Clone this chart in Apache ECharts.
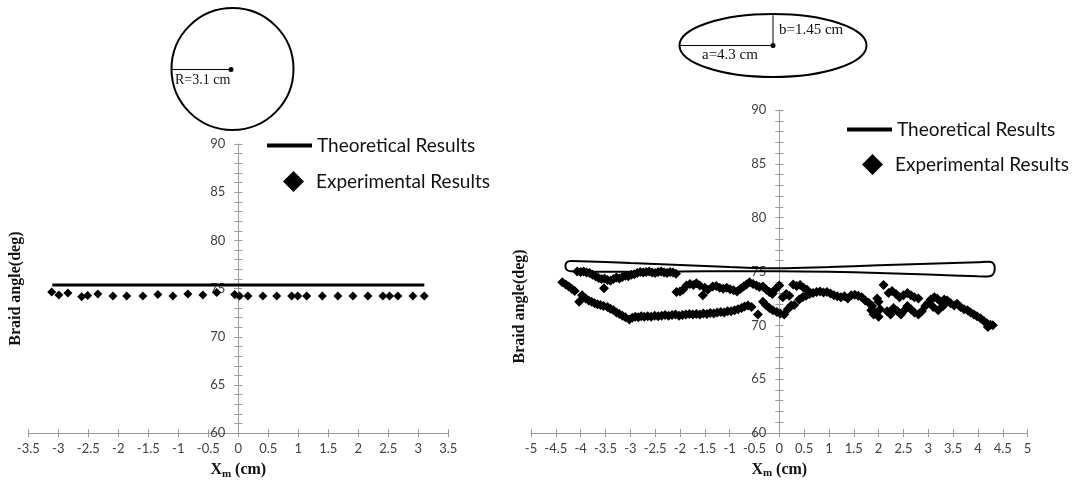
<!DOCTYPE html>
<html>
<head>
<meta charset="utf-8">
<script src="https://cdn.jsdelivr.net/npm/echarts@6/dist/echarts.min.js"></script>
<style>
html,body{margin:0;padding:0;background:#fff;}
#chart{width:1082px;height:484px;}
</style>
</head>
<body>
<div id="chart"></div>
<script>
// ---------- DATA ----------
const seriesNames = ['Theoretical Results', 'Experimental Results'];
const yTicks = {min: 60, max: 90, interval: 5};
const leftXRange = {min: -3.5, max: 3.5, interval: 0.5};
const rightXRange = {min: -5, max: 5, interval: 0.5};

// Left chart (circle, R = 3.1 cm)
const leftTheory = [[-3.1, 75.38], [3.1, 75.38]];
const leftExp = [
  [-3.11, 74.65], [-2.99, 74.35], [-2.84, 74.55], [-2.61, 74.15], [-2.51, 74.3],
  [-2.34, 74.45], [-2.09, 74.25], [-1.86, 74.25], [-1.59, 74.25], [-1.34, 74.4],
  [-1.09, 74.25], [-0.84, 74.45], [-0.59, 74.35], [-0.36, 74.6], [-0.06, 74.4],
  [0.02, 74.25], [0.16, 74.25], [0.41, 74.25], [0.64, 74.25], [0.89, 74.25],
  [0.99, 74.25], [1.14, 74.25], [1.4, 74.25], [1.66, 74.25], [1.91, 74.25],
  [2.16, 74.25], [2.41, 74.25], [2.52, 74.25], [2.66, 74.25], [2.91, 74.25],
  [3.1, 74.25]
];

// Right chart (ellipse, a = 4.3 cm, b = 1.45 cm) - closed theoretical loop
const rightTheoryUpper = [
  [-4.31, 75.5], [-4.28, 75.85], [-4.2, 75.97], [-4.0, 75.96], [-3, 75.78], [-2, 75.6],
  [-1, 75.42], [0, 75.3], [1, 75.42], [2, 75.57], [3, 75.72], [4.0, 75.86],
  [4.2, 75.9], [4.3, 75.8], [4.34, 75.3]
];
const rightTheoryLower = [
  [4.3, 74.7], [4.2, 74.53], [4.0, 74.55], [3, 74.72], [2, 74.86], [1, 74.97],
  [0, 75.02], [-1, 75.02], [-2, 75.0], [-3, 74.98], [-4.0, 74.98], [-4.2, 75.02],
  [-4.28, 75.15], [-4.31, 75.5]
];

const rightExpBandUpper = [
  [-4.07, 75.0], [-4.0, 74.95], [-3.94, 75.0], [-3.88, 74.9], [-3.82, 74.85], [-3.76, 74.7],
  [-3.7, 74.55], [-3.64, 74.4], [-3.58, 74.3], [-3.52, 74.35], [-3.46, 74.2], [-3.4, 74.15],
  [-3.34, 74.3], [-3.28, 74.45], [-3.22, 74.35], [-3.16, 74.5], [-3.1, 74.6], [-3.04, 74.55],
  [-2.98, 74.7], [-2.92, 74.75], [-2.86, 74.85], [-2.8, 74.95], [-2.74, 74.9], [-2.68, 74.95],
  [-2.62, 75.0], [-2.56, 74.9], [-2.5, 74.85], [-2.44, 74.95], [-2.38, 75.0], [-2.32, 74.9],
  [-2.26, 74.85], [-2.2, 74.95], [-2.14, 74.9], [-2.08, 74.8], [-3.53, 73.45]
];
const rightExpBandLower = [
  [-4.37, 74.0], [-4.3, 73.8], [-4.24, 73.6], [-4.18, 73.4], [-4.12, 73.2], [-4.03, 72.2],
  [-3.97, 72.8], [-3.9, 72.5], [-3.84, 72.3], [-3.78, 72.2], [-3.72, 72.05], [-3.66, 71.95],
  [-3.6, 71.9], [-3.54, 71.8], [-3.46, 71.7], [-3.4, 71.55], [-3.34, 71.4], [-3.28, 71.2],
  [-3.22, 71.05], [-3.16, 70.9], [-3.1, 70.75], [-3.02, 70.55], [-2.96, 70.7], [-2.9, 70.8],
  [-2.84, 70.75], [-2.78, 70.85], [-2.72, 70.8], [-2.65, 70.85], [-2.58, 70.8], [-2.51, 70.9],
  [-2.44, 70.85], [-2.37, 70.9], [-2.3, 70.95], [-2.23, 70.9], [-2.16, 70.95], [-2.09, 71.0],
  [-2.02, 70.9], [-1.95, 70.95], [-1.88, 71.0], [-1.81, 71.05], [-1.74, 71.0], [-1.67, 71.05],
  [-1.6, 71.0], [-1.53, 71.1], [-1.46, 71.05], [-1.39, 71.15], [-1.32, 71.1], [-1.25, 71.2],
  [-1.18, 71.25], [-1.11, 71.2], [-1.04, 71.3], [-0.97, 71.3], [-0.9, 71.4], [-0.83, 71.5],
  [-0.76, 71.6], [-0.7, 71.75], [-0.63, 71.85], [-0.56, 71.7], [-0.43, 71.0], [-0.33, 72.2],
  [-0.27, 71.9], [-0.2, 71.6], [-0.13, 71.4], [-0.05, 71.25], [0.02, 71.1], [0.1, 71.0],
  [0.17, 71.5], [0.24, 71.85], [0.3, 71.9]
];
const rightExpBandMiddle = [
  [-2.07, 73.1], [-2.0, 73.15], [-1.94, 73.3], [-1.87, 73.7], [-1.8, 73.85], [-1.73, 73.75],
  [-1.67, 73.9], [-1.6, 73.7], [-1.54, 72.8], [-1.5, 73.5], [-1.44, 73.3], [-1.34, 73.6],
  [-1.27, 73.65], [-1.2, 73.5], [-1.13, 73.4], [-1.06, 73.5], [-0.99, 73.35], [-0.92, 73.25],
  [-0.85, 73.15], [-0.78, 73.4], [-0.72, 73.6], [-0.66, 73.8], [-0.6, 74.0], [-0.53, 73.85],
  [-0.46, 73.7], [-0.4, 73.55], [-0.33, 73.6], [-0.26, 73.3], [-0.2, 73.1], [-0.14, 72.9],
  [-0.07, 73.4], [0.0, 73.7], [0.07, 72.6], [0.14, 72.9], [0.2, 72.75], [0.28, 73.8],
  [0.35, 73.65], [0.42, 73.75], [0.49, 73.5], [0.56, 73.3]
];
const rightExpBandRight = [
  [0.4, 72.4], [0.47, 72.6], [0.54, 72.75], [0.61, 72.9], [0.68, 73.0], [0.75, 73.1],
  [0.82, 73.15], [0.89, 73.05], [0.96, 73.1], [1.03, 72.95], [1.1, 72.8], [1.17, 72.7],
  [1.24, 72.6], [1.31, 72.7], [1.38, 72.5], [1.45, 72.8], [1.52, 72.85], [1.59, 72.75],
  [1.66, 72.6], [1.73, 72.3], [1.8, 72.1], [1.87, 71.8], [1.9, 71.0], [1.97, 72.5],
  [2.0, 72.2], [2.1, 73.75], [2.03, 71.5], [1.95, 71.2], [2.0, 70.8], [1.85, 71.4],
  [2.2, 73.0], [2.27, 73.2], [2.35, 72.9], [2.42, 72.6], [2.5, 72.8], [2.58, 73.0],
  [2.65, 72.8], [2.72, 72.6], [2.8, 72.5], [2.17, 71.3], [2.24, 71.0], [2.3, 71.6],
  [2.38, 71.3], [2.45, 71.0], [2.52, 71.4], [2.58, 71.8], [2.65, 71.5], [2.72, 71.2],
  [2.8, 71.0], [2.87, 71.3], [2.94, 71.8], [3.0, 72.1], [3.05, 72.4], [3.12, 72.6],
  [3.18, 72.5], [3.25, 72.2], [3.32, 72.4], [3.38, 72.3], [3.45, 72.05], [3.52, 71.85],
  [3.58, 72.0], [3.65, 71.7], [3.72, 71.5], [3.79, 71.4], [3.85, 71.2], [3.92, 71.0],
  [3.98, 70.85], [4.05, 70.65], [4.12, 70.4], [4.18, 70.2], [4.25, 70.05], [4.3, 70.0],
  [4.2, 69.85], [3.1, 71.7], [3.2, 71.4], [3.3, 71.8]
];

// ---------- STYLE ----------
const axisGray = '#9a9a9a';
const labelColor = '#404040';
const tickFont = 'Lato';
const legendFont = 'Lato';
const nameFont = '"Liberation Serif", "Times New Roman", serif';

const grids = [
  {left: 28.3, top: 144, width: 420, height: 289.3},
  {left: 531, top: 110, width: 496.6, height: 323}
];

function xAxes(gridIndex, range) {
  const base = {
    type: 'value', gridIndex, min: range.min, max: range.max, interval: range.interval,
    position: 'bottom',
    splitLine: {show: false},
    axisLine: {onZero: false, lineStyle: {color: axisGray, width: 1}}
  };
  return [
    Object.assign({}, base, {
      axisTick: {show: true, length: 4, lineStyle: {color: axisGray}},
      axisLabel: {color: labelColor, fontFamily: tickFont, fontSize: 13, margin: 9},
      name: '{x|X}{s|m}{x| (cm)}', nameLocation: 'middle', nameGap: 27,
      nameTextStyle: {rich: {
        x: {fontFamily: nameFont, fontWeight: 'bold', fontSize: 16, color: '#111'},
        s: {fontFamily: nameFont, fontWeight: 'bold', fontSize: 11, color: '#111', verticalAlign: 'bottom', padding: [8, 0, 0, 0]}
      }}
    }),
    Object.assign({}, base, {
      axisLine: {show: false, onZero: false},
      axisTick: {show: true, inside: true, length: 4, lineStyle: {color: axisGray}},
      axisLabel: {show: false}
    })
  ];
}
// y axis sits at x = 0 of the matching x range: shift it from the grid's left edge
function yAxes(gridIndex, range, nameGap, namePadding) {
  const g = grids[gridIndex];
  const shift = -g.width * (0 - range.min) / (range.max - range.min);
  const base = {
    type: 'value', gridIndex, min: yTicks.min, max: yTicks.max, interval: yTicks.interval,
    position: 'left', offset: shift,
    splitLine: {show: false},
    minorTick: {show: true, splitNumber: 5, length: 4, lineStyle: {color: axisGray}}
  };
  return [
    Object.assign({}, base, {
      axisLine: {onZero: false, lineStyle: {color: axisGray, width: 1}},
      axisTick: {show: true, length: 4, lineStyle: {color: axisGray}},
      axisLabel: {color: labelColor, fontFamily: tickFont, fontSize: 13, margin: 13},
      name: 'Braid angle(deg)', nameLocation: 'middle', nameGap: nameGap, nameRotate: 90,
      nameTextStyle: {fontFamily: nameFont, fontWeight: 'bold', fontSize: 16, color: '#111', padding: namePadding}
    }),
    Object.assign({}, base, {
      axisLine: {show: false, onZero: false},
      axisTick: {show: true, inside: true, length: 4, lineStyle: {color: axisGray}},
      axisLabel: {show: false}
    })
  ];
}

const diamond = {symbol: 'diamond', symbolSize: 10, itemStyle: {color: '#000', opacity: 1}};

const option = {
  animation: false,
  backgroundColor: '#fff',
  grid: grids.map(g => Object.assign({containLabel: false, outerBoundsMode: 'none'}, g)),
  xAxis: [...xAxes(0, leftXRange), ...xAxes(1, rightXRange)],
  yAxis: [...yAxes(0, leftXRange, 214, 0), ...yAxes(1, rightXRange, 251, [0, 70, 0, 0])],
  legend: [
    {data: [{name: seriesNames[0], icon: 'rect'}], left: 267, top: 136, padding: 0, itemWidth: 45, itemHeight: 4,
     textStyle: {fontFamily: legendFont, fontSize: 19, color: '#111'}, selectedMode: false},
    {data: [{name: seriesNames[1], icon: 'diamond'}], left: 283, top: 171, padding: 0, itemWidth: 21, itemHeight: 21,
     textStyle: {fontFamily: legendFont, fontSize: 19, color: '#111', padding: [0, 0, 0, 7]}, selectedMode: false},
    {data: [{name: seriesNames[0], icon: 'rect'}], left: 847, top: 120, padding: 0, itemWidth: 45, itemHeight: 4,
     textStyle: {fontFamily: legendFont, fontSize: 19, color: '#111'}, selectedMode: false},
    {data: [{name: seriesNames[1], icon: 'diamond'}], left: 862, top: 154, padding: 0, itemWidth: 21, itemHeight: 21,
     textStyle: {fontFamily: legendFont, fontSize: 19, color: '#111', padding: [0, 0, 0, 7]}, selectedMode: false}
  ],
  series: [
    {name: seriesNames[0], type: 'line', xAxisIndex: 0, yAxisIndex: 0, data: leftTheory,
     showSymbol: false, lineStyle: {color: '#000', width: 3}, itemStyle: {color: '#000'}, z: 3},
    Object.assign({name: seriesNames[1], type: 'scatter', xAxisIndex: 0, yAxisIndex: 0, data: leftExp}, diamond, {symbolSize: 9}),
    {name: seriesNames[0], type: 'line', xAxisIndex: 2, yAxisIndex: 2,
     data: rightTheoryUpper.concat(rightTheoryLower),
     showSymbol: false, smooth: 0.35, lineStyle: {color: '#000', width: 2}, itemStyle: {color: '#000'}, z: 3},
    Object.assign({name: seriesNames[1], type: 'scatter', xAxisIndex: 2, yAxisIndex: 2,
      data: rightExpBandUpper.concat(rightExpBandLower, rightExpBandMiddle, rightExpBandRight)}, diamond)
  ],
  graphic: [
    // circle cross-section
    {type: 'circle', shape: {cx: 232.5, cy: 69, r: 61}, style: {fill: 'none', stroke: '#000', lineWidth: 2}},
    {type: 'line', shape: {x1: 171.5, y1: 69.5, x2: 231, y2: 69.5}, style: {stroke: '#000', lineWidth: 1}},
    {type: 'circle', shape: {cx: 231, cy: 69.5, r: 2.5}, style: {fill: '#000'}},
    {type: 'text', left: 175, top: 73, style: {text: 'R=3.1 cm', font: '14px "Liberation Serif", serif', fill: '#111'}},
    // ellipse cross-section
    {type: 'ellipse', shape: {cx: 773, cy: 45.5, rx: 93.5, ry: 31.5}, style: {fill: 'none', stroke: '#000', lineWidth: 2}},
    {type: 'line', shape: {x1: 679.5, y1: 45.5, x2: 773, y2: 45.5}, style: {stroke: '#000', lineWidth: 1}},
    {type: 'line', shape: {x1: 773, y1: 14, x2: 773, y2: 45.5}, style: {stroke: '#000', lineWidth: 1}},
    {type: 'circle', shape: {cx: 773, cy: 45.5, r: 2.5}, style: {fill: '#000'}},
    {type: 'text', left: 779, top: 23, style: {text: 'b=1.45 cm', font: '15px "Liberation Serif", serif', fill: '#111'}},
    {type: 'text', left: 702, top: 48, style: {text: 'a=4.3 cm', font: '15px "Liberation Serif", serif', fill: '#111'}}
  ]
};

const chart = echarts.init(document.getElementById('chart'), null, {renderer: 'canvas'});
chart.setOption(option);
</script>
</body>
</html>
